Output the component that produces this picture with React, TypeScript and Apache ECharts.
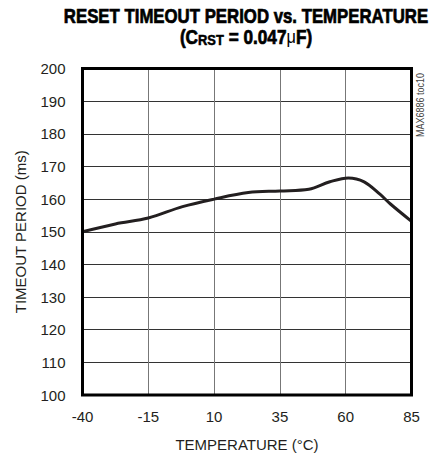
import React, { useEffect, useRef } from "react";
import * as echarts from "echarts";

const temperatures = [-40, -27.5, -15, -2, 10, 23, 35, 46, 54, 61, 67, 73, 77, 85];
const periods = [150, 152.4, 154.2, 157.7, 160, 162, 162.5, 163, 165.3, 166.5, 165.3, 161.5, 158.5, 153.2];
const xTicks = [-40, -15, 10, 35, 60, 85];
const yRange = [100, 200];

const FONT = "'Liberation Sans', Arial, sans-serif";

export default function App() {
  const ref = useRef<HTMLDivElement>(null);
  useEffect(() => {
    if (!ref.current) return;
    const chart = echarts.init(ref.current, null, { renderer: "svg" });
    const data = temperatures.map((t, i) => [t, periods[i]]);
    chart.setOption({
      animation: false,
      backgroundColor: "#fff",
      grid: {
        left: 82.5,
        top: 68.5,
        width: 329,
        height: 326.5,
        show: true,
        borderColor: "#000",
        borderWidth: 3,
        z: 10,
      },
      xAxis: {
        type: "value",
        min: xTicks[0],
        max: xTicks[xTicks.length - 1],
        interval: 25,
        name: "TEMPERATURE (°C)",
        nameLocation: "middle",
        nameGap: 42,
        nameTextStyle: { fontFamily: FONT, fontSize: 15, color: "#231f20" },
        axisLine: { show: false },
        axisTick: { show: false },
        axisLabel: { fontFamily: FONT, fontSize: 15, color: "#231f20", margin: 14 },
        splitLine: { show: true, lineStyle: { color: "#777", width: 1 } },
      },
      yAxis: {
        type: "value",
        min: yRange[0],
        max: yRange[1],
        interval: 10,
        name: "TIMEOUT PERIOD (ms)",
        nameLocation: "middle",
        nameGap: 55,
        nameTextStyle: { fontFamily: FONT, fontSize: 15, color: "#231f20" },
        axisLine: { show: false },
        axisTick: { show: false },
        axisLabel: { fontFamily: FONT, fontSize: 15, color: "#231f20", margin: 17 },
        splitLine: { show: true, lineStyle: { color: "#333", width: 1 } },
      },
      series: [
        {
          type: "line",
          data,
          smooth: 0.35,
          showSymbol: false,
          lineStyle: { color: "#231f20", width: 3 },
          z: 5,
        },
      ],
      graphic: [
        {
          type: "text",
          x: 246,
          y: 16,
          scaleX: 0.84,
          style: {
            text: "RESET TIMEOUT PERIOD vs. TEMPERATURE",
            font: "bold 20px " + FONT,
            fill: "#000",
            stroke: "#000",
            lineWidth: 0.7,
            align: "center",
            verticalAlign: "middle",
          },
        },
        {
          type: "text",
          x: 246,
          y: 37,
          scaleX: 0.86,
          style: {
            text: "{a|(C}{b|RST}{a| = 0.047}{c|μ}{a|F)}",
            fill: "#000",
            align: "center",
            verticalAlign: "middle",
            rich: {
              a: { font: "bold 20px " + FONT, fill: "#000", stroke: "#000", lineWidth: 0.7 },
              b: { font: "bold 15px " + FONT, fill: "#000", stroke: "#000", lineWidth: 0.5, padding: [6, 0, 0, 0] },
              c: { font: "19px " + FONT, fill: "#000" },
            },
          },
        },
        {
          type: "text",
          x: 420,
          y: 105,
          rotation: Math.PI / 2,
          scaleX: 0.9,
          style: {
            text: "MAX6886 toc10",
            font: "10px " + FONT,
            fill: "#444",
            align: "center",
            verticalAlign: "middle",
          },
        },
      ],
    });
    return () => chart.dispose();
  }, []);
  return <div ref={ref} style={{ width: 433, height: 458, position: "absolute", left: 0, top: 0 }} />;
}
